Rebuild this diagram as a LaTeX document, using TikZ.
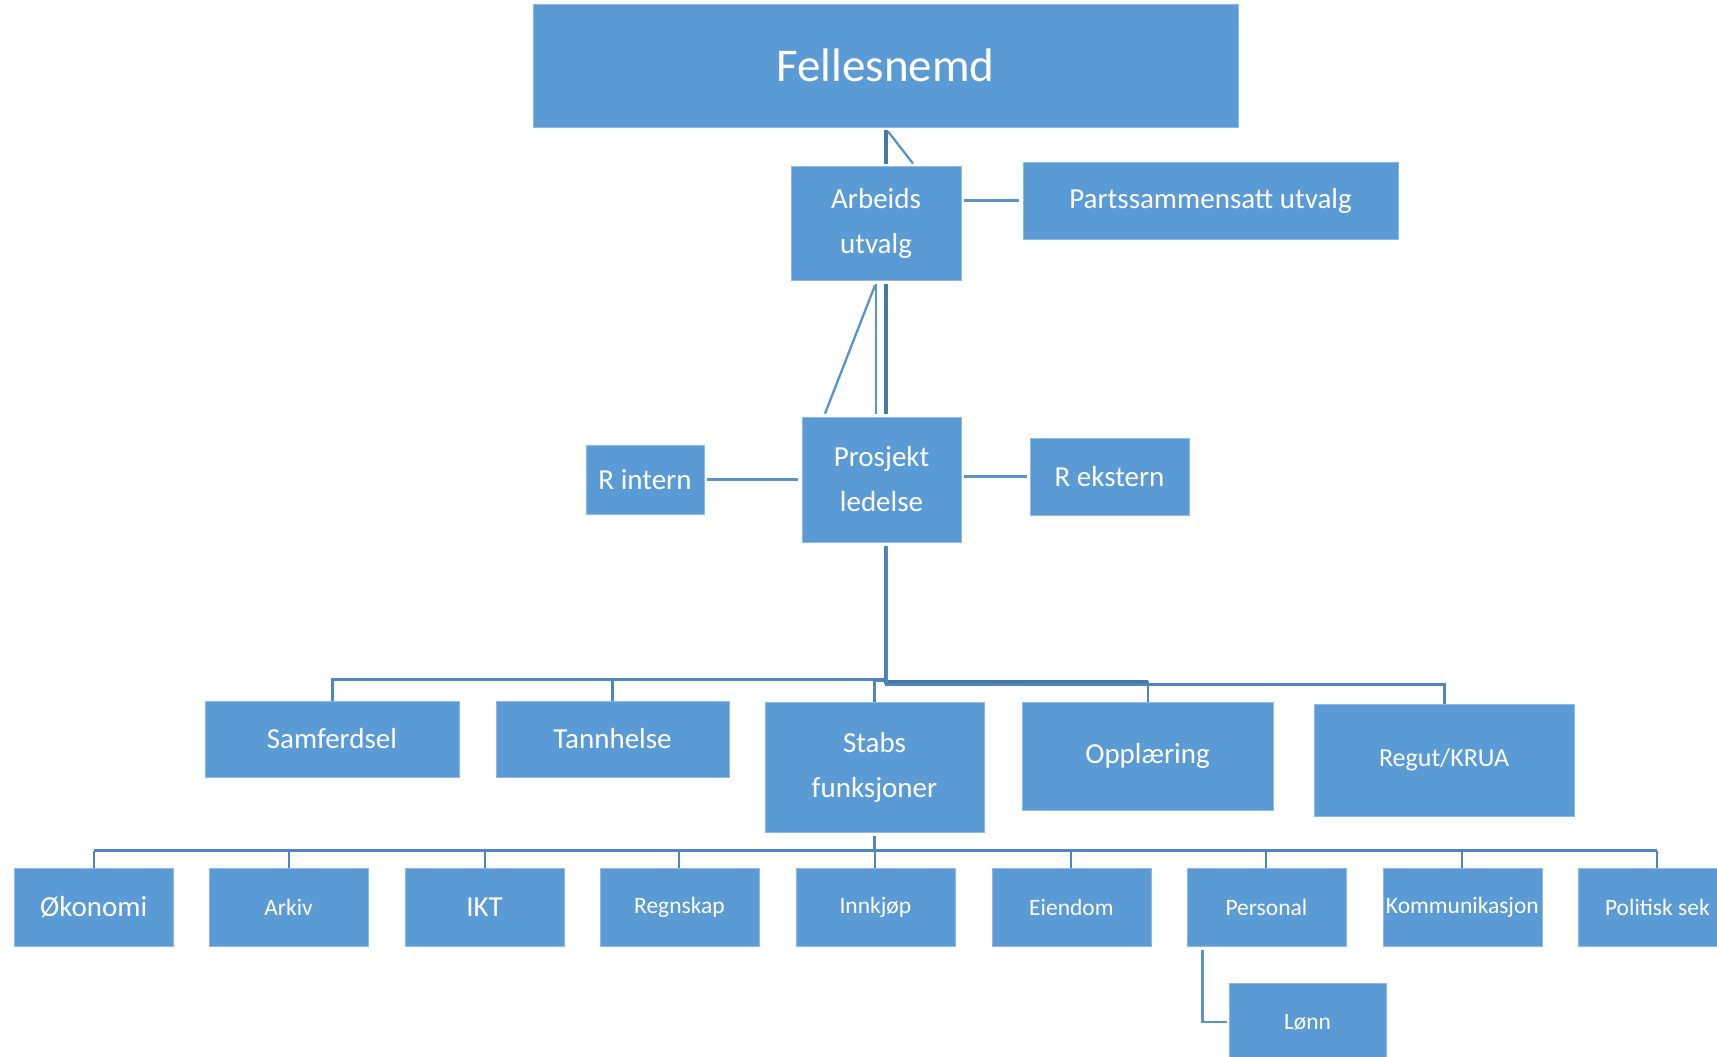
\documentclass[tikz,border=0pt]{standalone}
\usepackage{fontspec}
\setmainfont{Carlito}
\definecolor{boxblue}{HTML}{5B9BD5}
\definecolor{boxedge}{HTML}{8DB9E3}
\definecolor{linedark}{HTML}{4679AA}
\definecolor{linemid}{HTML}{4F86BE}
\definecolor{linelight}{HTML}{5A92CA}
\begin{document}
\begin{tikzpicture}[x=1pt,y=-1pt,
  box/.style={fill=boxblue,draw=boxedge,line width=0.8pt,text=white,inner sep=0pt,align=center,font=\fontsize{29}{45}\selectfont},
  small/.style={font=\fontsize{23.5}{30}\selectfont},
  thickline/.style={draw=linedark,line width=4.2pt},
  busline/.style={draw=linemid,line width=3pt},
  thinline/.style={draw=linelight,line width=2.3pt},
  dropline/.style={draw=linemid,line width=2pt}]
\useasboundingbox (0,0) rectangle (1717,1057);
\clip (0,0) rectangle (1717,1057);
\fill[white] (0,0) rectangle (1717,1057);

% nodes
\node[box,minimum width=705,minimum height=123,font=\fontsize{47}{56}\selectfont] (fel) at (885.5,65.5) {Fellesnemd};
\node[box,minimum width=170,minimum height=114] (arb) at (876,223) {Arbeids\\utvalg};
\node[box,minimum width=375,minimum height=77] (pss) at (1210.5,200.5) {Partssammensatt utvalg};
\node[box,minimum width=159,minimum height=125] (pro) at (881.5,479.5) {Prosjekt\\ledelse};
\node[box,minimum width=118,minimum height=69] (rin) at (645,479.5) {R intern};
\node[box,minimum width=159,minimum height=77] (rek) at (1109.5,476.5) {R ekstern};

\node[box,minimum width=254,minimum height=76] (sam) at (332,739) {Samferdsel};
\node[box,minimum width=233,minimum height=76] (tan) at (612.5,739) {Tannhelse};
\node[box,minimum width=219,minimum height=130] (stb) at (874.5,767) {Stabs\\funksjoner};
\node[box,minimum width=251,minimum height=108] (opp) at (1147.5,756) {Opplæring};
\node[box,minimum width=260,minimum height=112,font=\fontsize{26}{32}\selectfont] (reg) at (1444,760) {Regut/KRUA};

\node[box,minimum width=159,minimum height=78] (okn) at (93.6,907) {Økonomi};
\node[box,small,minimum width=159,minimum height=78] (ark) at (288.6,907) {Arkiv};
\node[box,minimum width=159,minimum height=78] (ikt) at (484.6,907) {IKT};
\node[box,small,minimum width=159,minimum height=78] (rsk) at (679.4,907) {Regnskap};
\node[box,small,minimum width=159,minimum height=78] (ink) at (875.4,907) {Innkjøp};
\node[box,small,minimum width=159,minimum height=78] (eie) at (1071.4,907) {Eiendom};
\node[box,small,minimum width=159,minimum height=78] (per) at (1266.4,907) {Personal};
\node[box,small,minimum width=159,minimum height=78] (kom) at (1462.4,907) {Kommunikasjon};
\node[box,small,minimum width=159,minimum height=78] (pol) at (1657.4,907) {Politisk sek};
\node[box,small,minimum width=157,minimum height=78] (lon) at (1307.5,1022) {Lønn};

% Fellesnemd - Arbeids utvalg
\draw[thickline] ([shift={(0.5,3)}]fel.south) -- ([shift={(10,-2)}]arb.north);
\draw[thinline] ([shift={(2.5,4)}]fel.south) -- ([shift={(37,-2)}]arb.north);
% Arbeids utvalg - Partssammensatt
\draw[thinline] ([xshift=3pt]arb.east |- pss.west) -- ([xshift=-4pt]pss.west);
% Arbeids utvalg - Prosjekt ledelse
\draw[thickline] ([shift={(10,4)}]arb.south) -- ([shift={(4.5,-3)}]pro.north);
\draw[thinline] ([shift={(0,4)}]arb.south) -- ([shift={(-5.5,-3)}]pro.north);
\draw[thinline] ([shift={(-1,5)}]arb.south) -- ([shift={(-56.5,-3)}]pro.north);
% R intern / R ekstern
\draw[thinline] ([xshift=3pt]rin.east) -- ([xshift=-4pt]pro.west |- rin.east);
\draw[thinline] ([xshift=3pt]pro.east |- rek.west) -- ([xshift=-3pt]rek.west);

% Prosjekt ledelse - departments
\coordinate (pd) at ([shift={(4.5,4)}]pro.south);
\draw[thickline] (pd) -- ([shift={(0,-20)}]pd |- sam.north);
\draw[busline] (pd) |- ([shift={(0,-21)}]sam.north) -- (sam.north);
\draw[busline] (pd) |- ([shift={(0,-21)}]tan.north) -- (tan.north);
\draw[busline] (pd) |- ([shift={(0,-21)}]stb.north) -- (stb.north);
\draw[thickline] (pd) |- ([shift={(0,-20)}]opp.north);
\draw[dropline] ([shift={(0,-21)}]opp.north) -- (opp.north);
\draw[busline] (pd) |- ([shift={(0,-19)}]reg.north) -- (reg.north);

% Stabs funksjoner - staff units
\foreach \n in {okn,ark,ikt,rsk,ink,eie,per,kom,pol}{
  \draw[busline] ([shift={(0,4)}]stb.south) |- ([shift={(0,-17)}]\n.north);
  \draw[dropline] ([shift={(0,-17)}]\n.north) -- (\n.north);
}
% Personal - Lønn
\draw[thinline] ([shift={(-64,4)}]per.south) |- ([xshift=-2pt]lon.west);
\end{tikzpicture}
\end{document}
